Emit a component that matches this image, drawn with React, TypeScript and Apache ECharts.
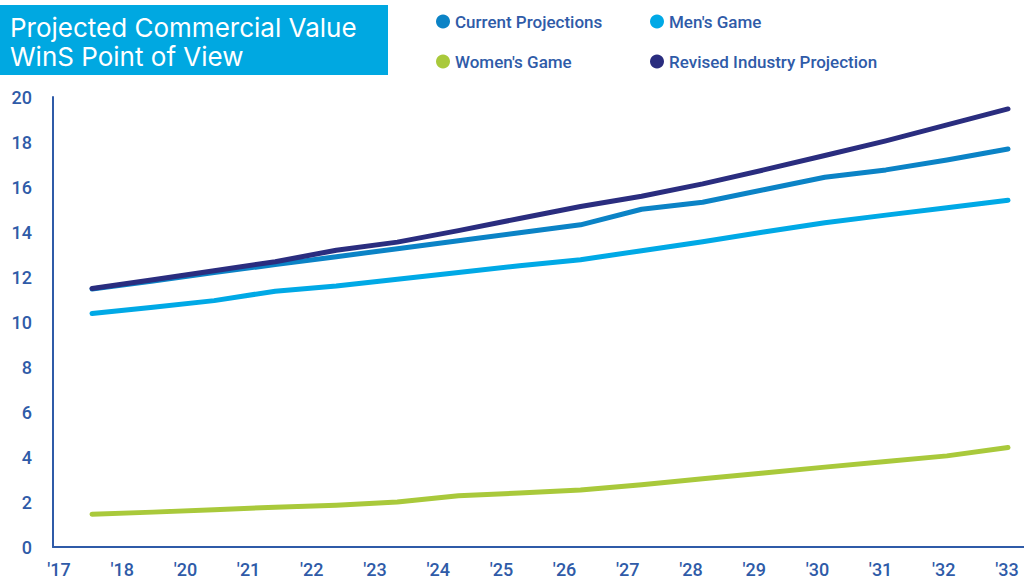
import React, { useEffect, useRef } from "react";
import * as echarts from "echarts";

const xLabels = ["'17", "'18", "'20", "'21", "'22", "'23", "'24", "'25", "'26", "'27", "'28", "'29", "'30", "'31", "'32", "'33"];
const seriesNames = ["Current Projections", "Men's Game", "Women's Game", "Revised Industry Projection"];
const currentProjections = [11.47, 11.82, 12.2, 12.55, 12.9, 13.26, 13.61, 13.97, 14.32, 15.01, 15.32, 15.88, 16.43, 16.76, 17.2, 17.69];
const mensGame = [10.38, 10.66, 10.95, 11.37, 11.6, 11.9, 12.2, 12.5, 12.77, 13.17, 13.57, 14.0, 14.41, 14.75, 15.08, 15.41];
const womensGame = [1.46, 1.55, 1.66, 1.77, 1.86, 2.0, 2.28, 2.4, 2.53, 2.77, 3.03, 3.29, 3.55, 3.8, 4.05, 4.42];
const revisedIndustry = [11.49, 11.88, 12.28, 12.68, 13.19, 13.55, 14.06, 14.6, 15.13, 15.59, 16.14, 16.76, 17.4, 18.05, 18.76, 19.47];
const yTicks = { min: 0, max: 20, interval: 2 };
const titleLines = ["Projected Commercial Value", "WinS Point of View"];

const colors = {
  current: "#0b83c6",
  men: "#00a9e6",
  women: "#a9c93b",
  revised: "#2a2d7f",
  axis: "#2f5ba8",
  titleBg: "#00a8e1",
};

const FONT = "Roboto, 'Noto Sans', sans-serif";
const TITLE_FONT = "Inter, Roboto, sans-serif";

export default function App() {
  const ref = useRef<HTMLDivElement>(null);
  useEffect(() => {
    document.body.style.margin = "0";
    if (!ref.current) return;
    const chart = echarts.init(ref.current, null, { renderer: "svg" });
    const pts = (arr: number[]) => arr.map((v, i) => [i, v]);
    const lineSeries = (name: string, data: number[], color: string, z: number) => ({
      name,
      type: "line",
      xAxisIndex: 1,
      data: pts(data),
      symbol: "none",
      color,
      lineStyle: { width: 5, color, cap: "round", join: "round" },
      z,
    });
    const legendBase = {
      icon: "circle",
      itemWidth: 14,
      itemHeight: 14,
      itemGap: 10,
      padding: 0,
      selectedMode: false,
      textStyle: { fontSize: 17, color: colors.axis, fontWeight: 500, fontFamily: FONT },
    };
    chart.setOption({
      animation: false,
      textStyle: { fontFamily: FONT },
      grid: { left: 53, right: 0, top: 97, bottom: 30, containLabel: false },
      legend: [
        { ...legendBase, data: [seriesNames[0]], left: 436, top: 13 },
        { ...legendBase, data: [seriesNames[1]], left: 650, top: 13 },
        { ...legendBase, data: [seriesNames[2]], left: 436, top: 53 },
        { ...legendBase, data: [seriesNames[3]], left: 650, top: 53 },
      ],
      xAxis: [
        {
          type: "value",
          min: 0,
          max: 15.364,
          interval: 1,
          axisLine: { show: true, lineStyle: { color: colors.axis, width: 2 } },
          axisTick: { show: false },
          splitLine: { show: false },
          axisLabel: {
            showMaxLabel: false,
            margin: 13,
            padding: [0, 0, 0, 12],
            fontSize: 18,
            fontWeight: 500,
            color: colors.axis,
            fontFamily: FONT,
            formatter: (v: number) => (Number.isInteger(v) && xLabels[v] !== undefined ? xLabels[v] : ""),
          },
        },
        {
          type: "value",
          min: -0.639,
          max: 15.262,
          show: false,
        },
      ],
      yAxis: {
        type: "value",
        min: yTicks.min,
        max: yTicks.max,
        interval: yTicks.interval,
        axisLine: { show: true, lineStyle: { color: colors.axis, width: 2 } },
        axisTick: { show: false },
        splitLine: { show: false },
        axisLabel: {
          margin: 21,
          fontSize: 18,
          fontWeight: 500,
          color: colors.axis,
          fontFamily: FONT,
        },
      },
      series: [
        lineSeries(seriesNames[1], mensGame, colors.men, 2),
        lineSeries(seriesNames[2], womensGame, colors.women, 2),
        lineSeries(seriesNames[0], currentProjections, colors.current, 3),
        lineSeries(seriesNames[3], revisedIndustry, colors.revised, 4),
      ],
      graphic: [
        {
          type: "rect",
          left: 0,
          top: 5,
          shape: { width: 388, height: 70 },
          style: { fill: colors.titleBg },
          silent: true,
        },
        {
          type: "text",
          left: 10,
          top: 14,
          style: { text: titleLines[0], fill: "#ffffff", fontSize: 26, fontFamily: TITLE_FONT, fontWeight: 400 },
        },
        {
          type: "text",
          left: 10,
          top: 43,
          style: { text: titleLines[1], fill: "#ffffff", fontSize: 26, fontFamily: TITLE_FONT, fontWeight: 400 },
        },
      ],
    });
    return () => chart.dispose();
  }, []);
  return <div ref={ref} style={{ width: 1024, height: 578 }} />;
}
